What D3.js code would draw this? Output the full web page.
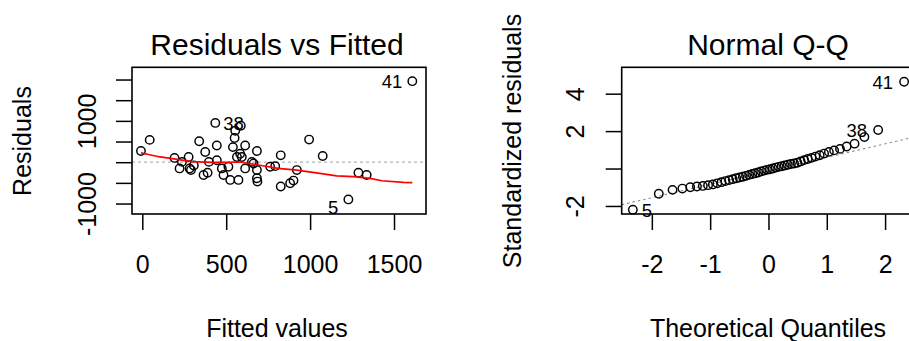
<!DOCTYPE html>
<html><head><meta charset="utf-8">
<script src="https://cdn.jsdelivr.net/npm/d3@7"></script>
<style>
body{margin:0;background:#fff}
text{font-family:"Liberation Sans",Arial,Helvetica,sans-serif;fill:#000}
</style>
</head><body>
<svg id="c" width="909" height="341"></svg>
<script>
// ---------- Residuals vs Fitted data ----------
const fittedValues = [-8, 44, 192, 222, 236, 276, 282, 290, 339, 375, 365, 389, 435, 444, 444, 474, 484, 524, 540, 550,
  554, 564, 587, 593, 613, 613, 573, 653, 683, 683, 683, 686, 762, 792, 825, 825, 881, 901, 921, 994,
  1075, 1288, 1337, 1228, 1609, 307, 397, 513, 663, 583];
const residualValues = [270, 540, 103, -150, 8, 127, -150, -190, 508, 246, -310, -254, 950, 405, 48, -150, -310, -429, 365, 587,
  762, 127, 881, 127, 405, -150, -429, 8, 270, -190, -389, -468, -111, -95, 167, -587, -508, -444, -190, 548,
  151, -254, -310, -900, 1960, -79, 8, -111, -31, 207];
const rvfLabelIndex = [12, 43, 44];
const rvfLabelText = ["38", "5", "41"];
const smoothFitted = [-8, 44, 98, 197, 296, 415, 493, 582, 691, 810, 920, 1058, 1158, 1258, 1357, 1427, 1556, 1609];
const smoothResid = [225, 180, 133, 75, 15, -5, -2, 5, -68, -150, -190, -269, -330, -350, -390, -448, -487, -496];
const rvfXTicks = [0, 500, 1000, 1500];
const rvfYTicks = [-1000, -500, 0, 500, 1000, 1500, 2000];
const rvfYTickLabels = ["-1000", "", "", "", "1000", "", ""];

// ---------- Normal Q-Q data ----------
const theoreticalQuantiles = [-2.326, -1.881, -1.645, -1.476, -1.341, -1.227, -1.126, -1.036, -0.954, -0.878,
  -0.806, -0.739, -0.674, -0.613, -0.553, -0.496, -0.440, -0.385, -0.332, -0.279,
  -0.228, -0.176, -0.126, -0.075, -0.025, 0.025, 0.075, 0.126, 0.176, 0.228,
  0.279, 0.332, 0.385, 0.440, 0.496, 0.553, 0.613, 0.674, 0.739, 0.806,
  0.878, 0.954, 1.036, 1.126, 1.227, 1.341, 1.476, 1.645, 1.881, 2.326];
const standardizedResiduals = [-2.20, -1.35, -1.14, -1.07, -1.00, -0.96, -0.93, -0.89, -0.85, -0.79,
  -0.73, -0.67, -0.62, -0.57, -0.52, -0.48, -0.44, -0.39, -0.34, -0.29,
  -0.25, -0.21, -0.15, -0.11, -0.07, -0.04, 0.00, 0.05, 0.09, 0.12,
  0.16, 0.20, 0.24, 0.27, 0.31, 0.38, 0.45, 0.51, 0.57, 0.64,
  0.71, 0.80, 0.89, 0.97, 1.05, 1.18, 1.33, 1.68, 2.06, 4.64];
const qqLabelIndex = [0, 48, 49];
const qqLabelText = ["5", "38", "41"];
const qqLineIntercept = -0.12;
const qqLineSlope = 0.72;
const qqXTicks = [-2, -1, 0, 1, 2];
const qqYTicks = [-2, 0, 2, 4];
const qqYTickLabels = ["-2", "", "2", "4"];

const svg = d3.select("#c");
svg.append("rect").attr("width", 909).attr("height", 341).attr("fill", "#fff");

function panel(opt) {
  const g = svg.append("g");
  const x = d3.scaleLinear().domain(opt.xDomain).range([opt.left, opt.right]);
  const y = d3.scaleLinear().domain(opt.yDomain).range([opt.bottom, opt.top]);
  const clipId = "clip" + opt.id;
  svg.append("clipPath").attr("id", clipId).append("rect")
    .attr("x", opt.left).attr("y", opt.top).attr("width", opt.right - opt.left).attr("height", opt.bottom - opt.top);

  const xa = g.append("g").attr("transform", `translate(0,${opt.bottom})`)
    .call(d3.axisBottom(x).tickValues(opt.xTicks).tickSize(16).tickSizeOuter(0).tickFormat(d => String(d)));
  xa.select(".domain").remove();
  xa.selectAll("line").attr("stroke", "#000").attr("stroke-width", 1.5);
  xa.selectAll("text").attr("y", 59).attr("dy", 0).attr("font-size", 25)
    .text(d => d < 0 ? "-" + Math.abs(d) : String(d));

  const ya = g.append("g").attr("transform", `translate(${opt.left},0)`)
    .call(d3.axisLeft(y).tickValues(opt.yTicks).tickSize(16).tickSizeOuter(0)
      .tickFormat((d, i) => opt.yTickLabels[i]));
  ya.select(".domain").remove();
  ya.selectAll("line").attr("stroke", "#000").attr("stroke-width", 1.5);
  ya.selectAll("text").attr("x", 0).attr("y", 0).attr("dy", 0).attr("font-size", 25)
    .attr("text-anchor", "middle").attr("transform", `translate(${-opt.yLabelOff},0) rotate(-90)`);

  return {g, x, y, clipId};
}

// ---------- Panel 1 ----------
const p1 = panel({id: 1, left: 132, right: 426, top: 67.3, bottom: 214,
  xDomain: [-61.4, 1690.6], yDomain: [-1253, 2296],
  xTicks: rvfXTicks, yTicks: rvfYTicks, yTickLabels: rvfYTickLabels, yLabelOff: 36});

p1.g.append("line").attr("x1", 132).attr("x2", 426).attr("y1", p1.y(0)).attr("y2", p1.y(0))
  .attr("stroke", "#b4b4b4").attr("stroke-width", 1.2).attr("stroke-dasharray", "3,3");

p1.g.append("g").selectAll("circle").data(fittedValues).join("circle")
  .attr("cx", d => p1.x(d)).attr("cy", (d, i) => p1.y(residualValues[i])).attr("r", 4.2)
  .attr("fill", "none").attr("stroke", "#000").attr("stroke-width", 1.45);

p1.g.append("path").datum(smoothFitted.map((f, i) => [f, smoothResid[i]]))
  .attr("d", d3.line().x(d => p1.x(d[0])).y(d => p1.y(d[1])))
  .attr("fill", "none").attr("stroke", "#ff0000").attr("stroke-width", 1.7);

const midX1 = (d3.min(fittedValues) + d3.max(fittedValues)) / 2;
p1.g.append("g").selectAll("text").data(rvfLabelIndex).join("text")
  .attr("x", i => p1.x(fittedValues[i]) + (fittedValues[i] > midX1 ? -10 : 8))
  .attr("y", (i, k) => p1.y(residualValues[i]) + (rvfLabelText[k] === "5" ? 15 : 7))
  .attr("text-anchor", i => fittedValues[i] > midX1 ? "end" : "start")
  .attr("font-size", 18.5).text((i, k) => rvfLabelText[k]);

p1.g.append("rect").attr("x", 132).attr("y", 67.3).attr("width", 294).attr("height", 146.7)
  .attr("fill", "none").attr("stroke", "#000").attr("stroke-width", 1.6);

svg.append("text").attr("x", 277).attr("y", 55).attr("text-anchor", "middle").attr("font-size", 30)
  .text("Residuals vs Fitted");
svg.append("text").attr("x", 277).attr("y", 337).attr("text-anchor", "middle").attr("font-size", 25)
  .text("Fitted values");
svg.append("text").attr("transform", "translate(31,141) rotate(-90)").attr("text-anchor", "middle")
  .attr("font-size", 25).text("Residuals");

// ---------- Panel 2 ----------
const p2 = panel({id: 2, left: 621.7, right: 916, top: 67.3, bottom: 214,
  xDomain: [-2.517, 2.53], yDomain: [-2.43, 5.41],
  xTicks: qqXTicks, yTicks: qqYTicks, yTickLabels: qqYTickLabels, yLabelOff: 37.7});

const qx0 = p2.x.domain()[0], qx1 = p2.x.domain()[1];
p2.g.append("line").attr("clip-path", `url(#${p2.clipId})`)
  .attr("x1", p2.x(qx0)).attr("y1", p2.y(qqLineIntercept + qqLineSlope * qx0))
  .attr("x2", p2.x(qx1)).attr("y2", p2.y(qqLineIntercept + qqLineSlope * qx1))
  .attr("stroke", "#8c8c8c").attr("stroke-width", 1.1).attr("stroke-dasharray", "2.5,3");

p2.g.append("g").selectAll("circle").data(theoreticalQuantiles).join("circle")
  .attr("cx", d => p2.x(d)).attr("cy", (d, i) => p2.y(standardizedResiduals[i])).attr("r", 4.2)
  .attr("fill", "none").attr("stroke", "#000").attr("stroke-width", 1.45);

p2.g.append("g").selectAll("text").data(qqLabelIndex).join("text")
  .attr("x", i => p2.x(theoreticalQuantiles[i]) + (theoreticalQuantiles[i] > 0 ? -11 : 9))
  .attr("y", i => p2.y(standardizedResiduals[i]) + 7)
  .attr("text-anchor", i => theoreticalQuantiles[i] > 0 ? "end" : "start")
  .attr("font-size", 18.5).text((i, k) => qqLabelText[k]);

p2.g.append("rect").attr("x", 621.7).attr("y", 67.3).attr("width", 294.3).attr("height", 146.7)
  .attr("fill", "none").attr("stroke", "#000").attr("stroke-width", 1.6);

svg.append("text").attr("x", 768).attr("y", 55).attr("text-anchor", "middle").attr("font-size", 30)
  .text("Normal Q-Q");
svg.append("text").attr("x", 768).attr("y", 337).attr("text-anchor", "middle").attr("font-size", 25)
  .text("Theoretical Quantiles");
svg.append("text").attr("transform", "translate(521,141) rotate(-90)").attr("text-anchor", "middle")
  .attr("font-size", 25).text("Standardized residuals");
</script>
</body></html>
